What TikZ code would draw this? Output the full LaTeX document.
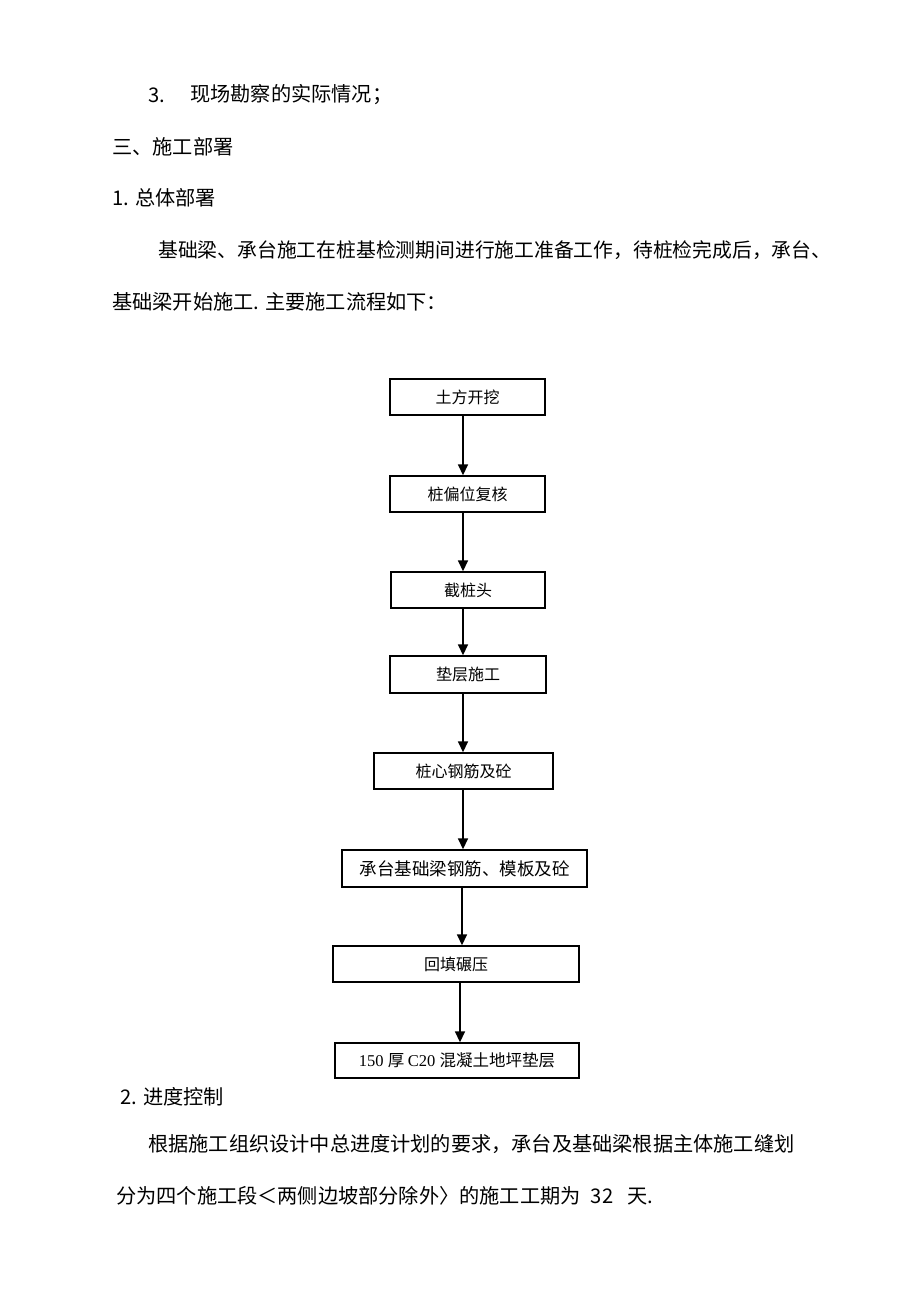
\documentclass[tikz,border=0pt]{standalone}
\usepackage{fontspec}
\setmainfont{Liberation Serif}
\newfontfamily\cjk{Noto Sans CJK SC}
\usetikzlibrary{arrows.meta}
\tikzset{
  bodytext/.style={anchor=west, inner sep=0pt, font=\cjk\fontsize{20.2}{22}\selectfont},
  stepbox/.style={draw, line width=1.4pt, inner sep=0pt, font=\cjk\fontsize{16}{18}\selectfont},
  flow/.style={line width=1.6pt, -{Triangle[length=11pt,width=10pt]}}
}
\newcommand{\mybox}[6]{% name, x1, y1, x2, y2, text
  \node[stepbox, minimum width={#4-#2}, minimum height={#5-#3}] (#1) at ({(#2+#4)/2},{(#3+#5)/2}) {#6};}
\begin{document}
\begin{tikzpicture}[x=1pt,y=-1pt]
\useasboundingbox[fill=white] (0,0) rectangle (920,1302);
% body text
\node[bodytext] (t1n) at (148,95) {3.};
\node[bodytext] (t1) at (190,95) {现场勘察的实际情况；};
\node[bodytext] (t2) at (112,147) {三、施工部署};
\node[bodytext] (t3) at (112,198) {1. 总体部署};
\node[bodytext, font=\cjk\fontsize{19.8}{22}\selectfont] (t4) at (158,250) {基础梁、承台施工在桩基检测期间进行施工准备工作，待桩检完成后，承台、};
\node[bodytext] (t5) at (112,302) {基础梁开始施工. 主要施工流程如下：};
\node[bodytext] (t6) at (120,1097) {2. 进度控制};
\node[bodytext] (t7) at (148,1144) {根据施工组织设计中总进度计划的要求，承台及基础梁根据主体施工缝划};
\node[bodytext] (t8) at (116,1196) {分为四个施工段＜两侧边坡部分除外〉的施工工期为\hspace{10pt}32\hspace{14pt}天.};
% boxes
\mybox{b1}{390}{379}{545}{415}{土方开挖}
\mybox{b2}{390}{476}{545}{512}{桩偏位复核}
\mybox{b3}{391}{572}{545}{608}{截桩头}
\mybox{b4}{390}{656}{546}{693}{垫层施工}
\mybox{b5}{374}{753}{553}{789}{桩心钢筋及砼}
\mybox{b6}{342}{850}{587}{887}{\fontsize{17.5}{19}\selectfont 承台基础梁钢筋、模板及砼}
\mybox{b7}{333}{946}{579}{982}{回填碾压}
\mybox{b8}{335}{1043}{579}{1078}{\rmfamily\fontsize{16.5}{19}\selectfont 150 \cjk 厚 \rmfamily C20 \cjk 混凝土地坪垫层}
% arrows
\draw[flow] (b1.south -| 463,0) -- (b2.north -| 463,0);
\draw[flow] (b2.south -| 463,0) -- (b3.north -| 463,0);
\draw[flow] (b3.south -| 463,0) -- (b4.north -| 463,0);
\draw[flow] (b4.south -| 463,0) -- (b5.north -| 463,0);
\draw[flow] (b5.south -| 463,0) -- (b6.north -| 463,0);
\draw[flow] (b6.south -| 462,0) -- (b7.north -| 462,0);
\draw[flow] (b7.south -| 460,0) -- (b8.north -| 460,0);
\end{tikzpicture}
\end{document}
